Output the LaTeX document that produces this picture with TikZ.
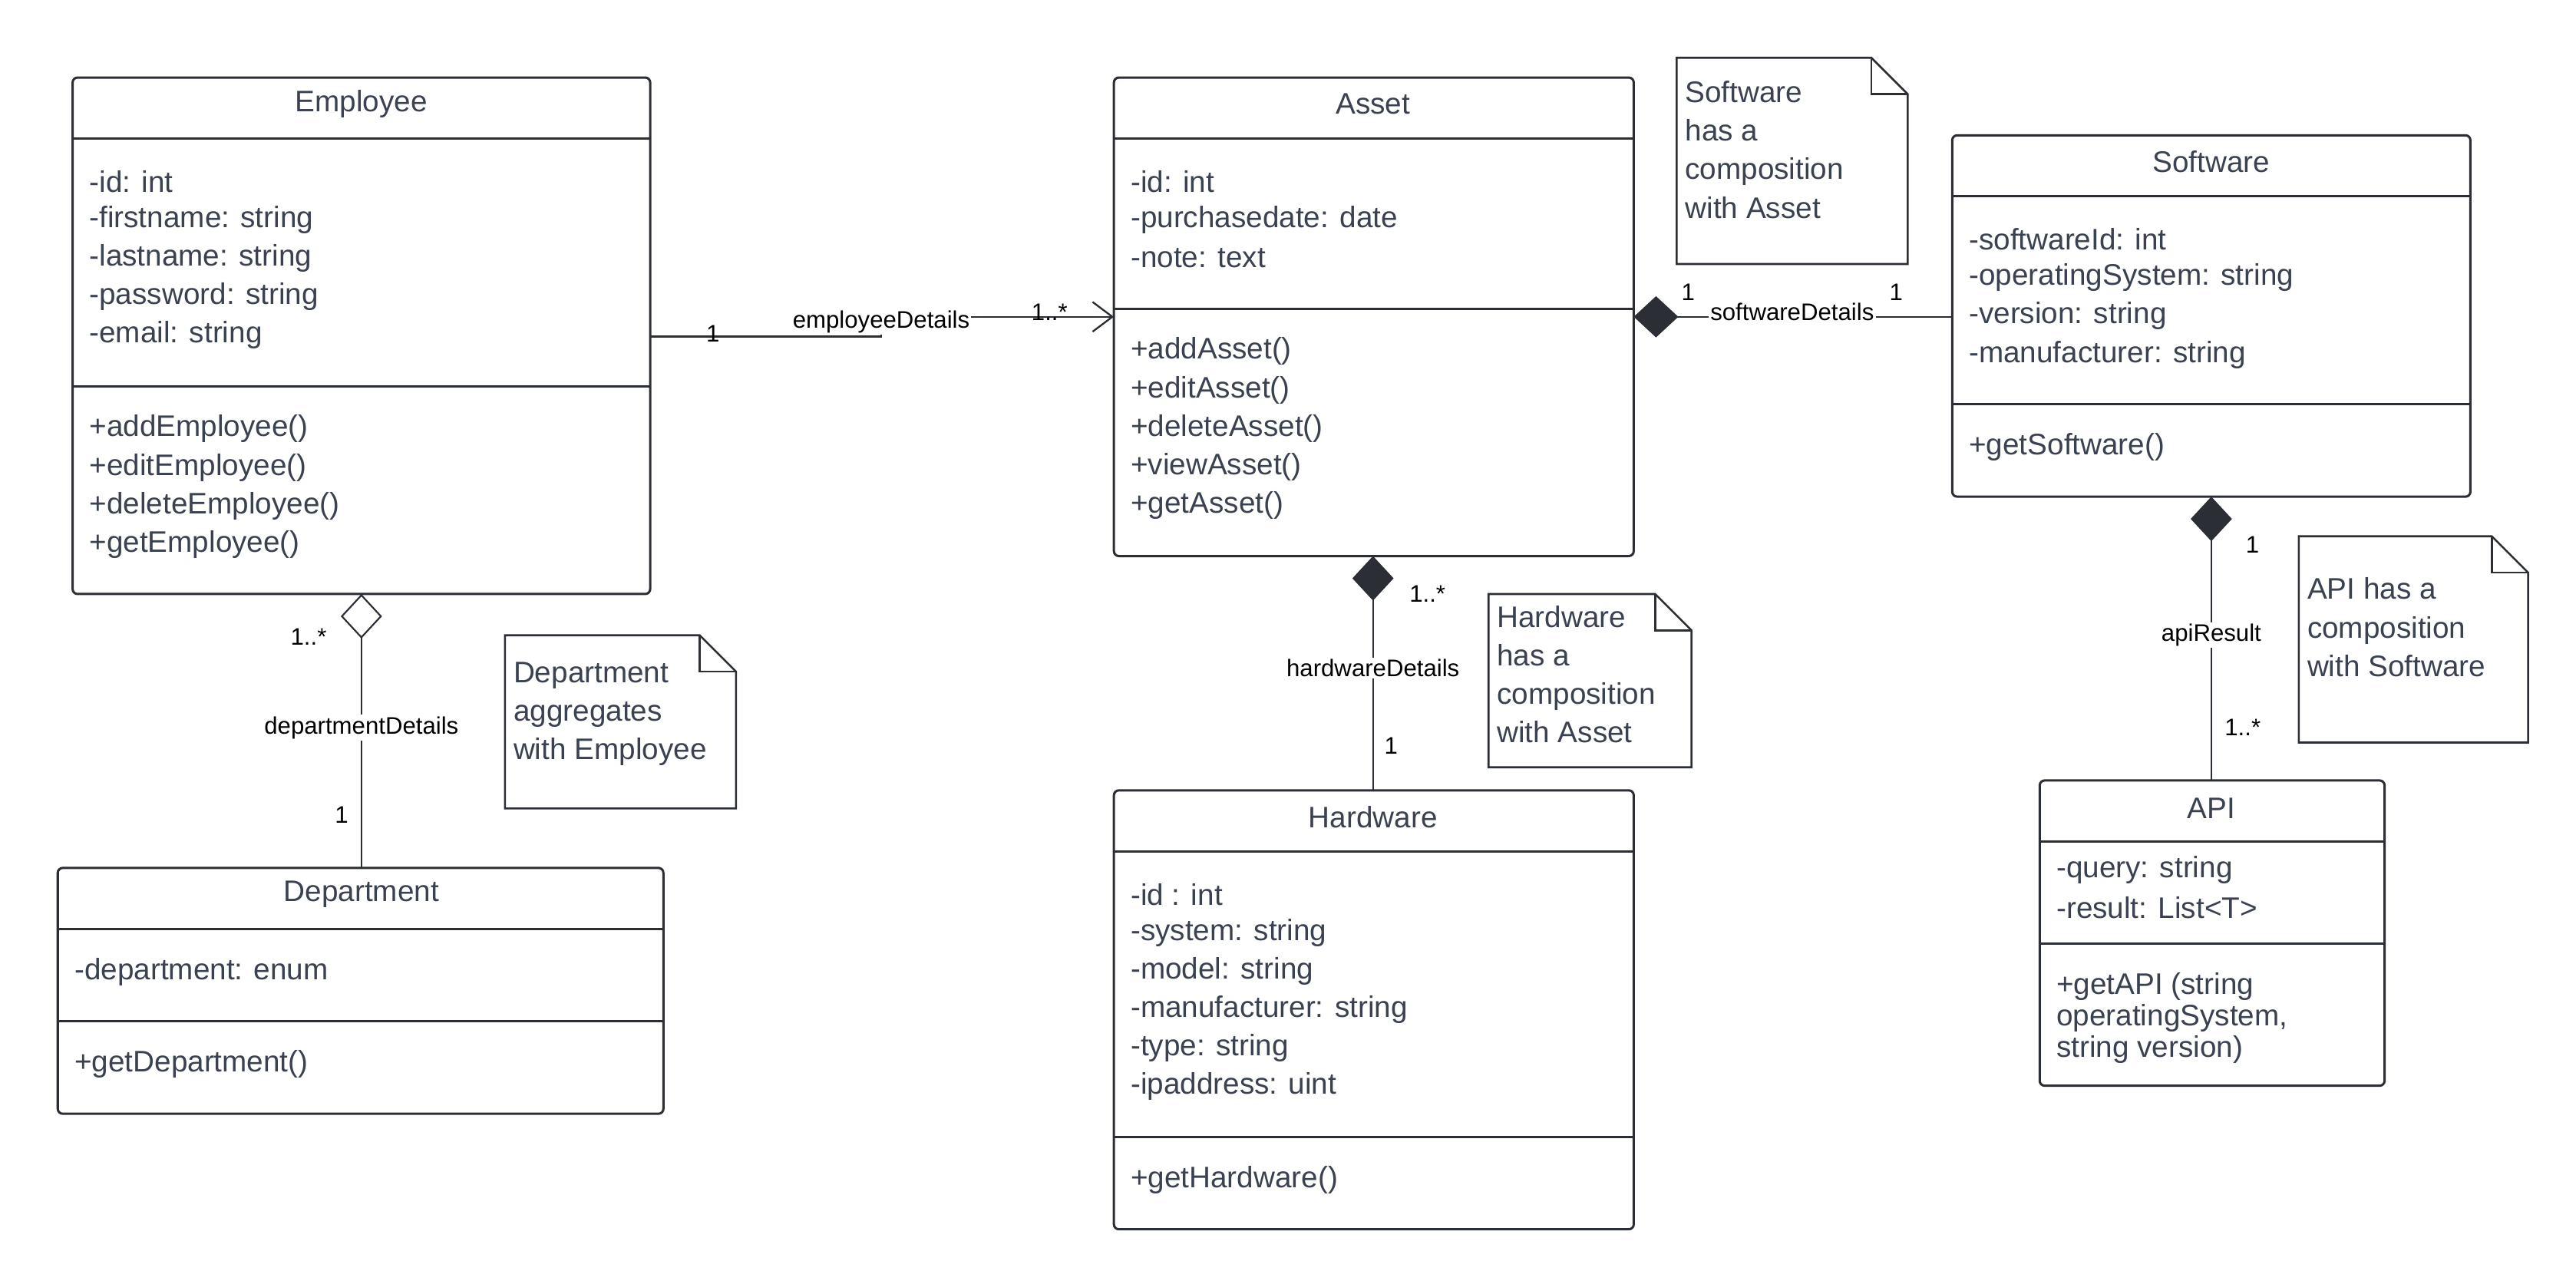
\documentclass[tikz,border=0pt]{standalone}
\usepackage{fontspec}
\setmainfont{Liberation Sans}
\usetikzlibrary{arrows.meta,shapes.misc}
\definecolor{ln}{HTML}{2B2E35}
\definecolor{tx}{HTML}{3A4150}
\begin{document}
\begin{tikzpicture}[x=1pt,y=-1pt,
  box/.style={draw=ln,line width=1.4pt,rounded corners=3pt,fill=white},
  sep/.style={draw=ln,line width=1.4pt},
  ttl/.style={font=\fontsize{18}{20}\selectfont,text=tx},
  attr/.style={anchor=west,font=\fontsize{18}{20}\selectfont,text=tx,inner sep=0pt},
  note/.style={font=\fontsize{18}{23.3}\selectfont,text=tx,anchor=north west,align=left,inner sep=0pt},
  conn/.style={draw=ln,line width=1.1pt},
  lbl/.style={font=\fontsize{14.5}{16}\selectfont,text=black,fill=white,inner sep=1pt},
  mul/.style={font=\fontsize{14.5}{16}\selectfont,text=black,inner sep=0pt},
  comp/.style={-{Diamond[length=27pt,width=25pt,fill=ln,line width=1pt]}},
  aggr/.style={-{Diamond[length=27pt,width=25pt,open,fill=white,line width=1pt]}},
  opena/.style={-{Straight Barb[length=12pt,width=18pt,line width=1.1pt]}}]
\useasboundingbox (0,0) rectangle (1561,778);
\newcommand{\notebox}[5]{% name,x1,y1,x2,y2
  \draw[ln,line width=1.2pt,fill=white] (#2,#3) -- (#4-22,#3) -- (#4,#3+22) -- (#4,#5) -- (#2,#5) -- cycle;
  \draw[ln,line width=1.2pt] (#4-22,#3) -- (#4-22,#3+22) -- (#4,#3+22);
  \coordinate (#1) at (#2,#3);}
% Employee
\draw[box] (44,47) rectangle (394,360);
\draw[sep] (44,84) -- (394,84); \draw[sep] (44,234) -- (394,234);
\node[ttl] at (219,63) {Employee};
\foreach \t [count=\i from 0] in {-id: int,-firstname: string,-lastname: string,-password: string,-email: string}
  \node[attr] at (54,110+23.3*\i) {\t};
\foreach \t [count=\i from 0] in {+addEmployee(),+editEmployee(),+deleteEmployee(),+getEmployee()}
  \node[attr] at (54,260+23.3*\i) {\t};
% Asset
\draw[box] (675,47) rectangle (990,337);
\draw[sep] (675,84) -- (990,84); \draw[sep] (675,187) -- (990,187);
\node[ttl] at (832,63) {Asset};
\foreach \t [count=\i from 0] in {-id: int,-purchasedate: date,-note: text}
  \node[attr] at (685,110+23.3*\i) {\t};
\foreach \t [count=\i from 0] in {+addAsset(),+editAsset(),+deleteAsset(),+viewAsset(),+getAsset()}
  \node[attr] at (685,213+23.3*\i) {\t};
% Software
\draw[box] (1183,82) rectangle (1497,301);
\draw[sep] (1183,119) -- (1497,119); \draw[sep] (1183,245) -- (1497,245);
\node[ttl] at (1340,98) {Software};
\foreach \t [count=\i from 0] in {-softwareId: int,-operatingSystem: string,-version: string,-manufacturer: string}
  \node[attr] at (1193,145+23.3*\i) {\t};
\node[attr] at (1193,271) {+getSoftware()};
% Hardware
\draw[box] (675,479) rectangle (990,745);
\draw[sep] (675,516) -- (990,516); \draw[sep] (675,689) -- (990,689);
\node[ttl] at (832,495) {Hardware};
\foreach \t [count=\i from 0] in {-id : int,-system: string,-model: string,-manufacturer: string,-type: string,-ipaddress: uint}
  \node[attr] at (685,542+23.3*\i) {\t};
\node[attr] at (685,715) {+getHardware()};
% Department
\draw[box] (35,526) rectangle (402,675);
\draw[sep] (35,563) -- (402,563); \draw[sep] (35,619) -- (402,619);
\node[ttl] at (219,542) {Department};
\node[attr] at (45,589) {-department: enum};
\node[attr] at (45,645) {+getDepartment()};
% API
\draw[box] (1236,473) rectangle (1445,658);
\draw[sep] (1236,510) -- (1445,510); \draw[sep] (1236,572) -- (1445,572);
\node[ttl] at (1340,490) {API};
\node[attr] at (1246,527) {-query: string};
\node[attr] at (1246,550) {-result: List<T>};
\node[attr] at (1246,598) {+getAPI (string};
\node[attr] at (1246,617) {operatingSystem,};
\node[attr] at (1246,636) {string version)};
% notes
\notebox{n1}{1016}{35}{1156}{160}
\node[note] at (1021,49) {Software\\has a\\composition\\with Asset};
\notebox{n2}{902}{360}{1025}{465}
\node[note] at (907,367) {Hardware\\has a\\composition\\with Asset};
\notebox{n3}{306}{385}{446}{490}
\node[note] at (311,401) {Department\\aggregates\\with Employee};
\notebox{n4}{1393}{325}{1532}{450}
\node[note] at (1398,350) {API has a\\composition\\with Software};
% connectors
\draw[conn,opena] (394,204) -- (534,204) -- (534,192) -- (675,192);
\node[lbl] at (534,195) {employeeDetails};
\node[mul] at (432,202) {1};
\node[mul] at (636,189) {1..*};
\draw[conn,comp] (1183,192) -- (990,192);
\node[lbl] at (1086,189) {softwareDetails};
\node[mul] at (1023,177) {1};
\node[mul] at (1149,177) {1};
\draw[conn,comp] (832,479) -- (832,337);
\node[lbl] at (832,405) {hardwareDetails};
\node[mul] at (865,360) {1..*};
\node[mul] at (843,452) {1};
\draw[conn,aggr] (219,526) -- (219,360);
\node[lbl] at (219,441) {departmentDetails};
\node[mul] at (187,386) {1..*};
\node[mul] at (207,494) {1};
\draw[conn,comp] (1340,473) -- (1340,301);
\node[lbl] at (1340,385) {apiResult};
\node[mul] at (1365,330) {1};
\node[mul] at (1359,441) {1..*};
\end{tikzpicture}
\end{document}
